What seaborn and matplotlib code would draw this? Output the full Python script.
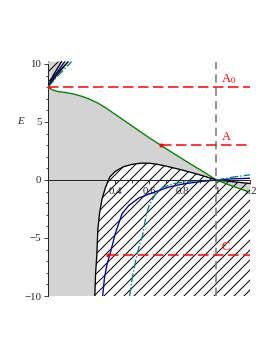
import numpy as np
import matplotlib
matplotlib.use("Agg")
import matplotlib.pyplot as plt
import seaborn as sns

# curves (x, E)
green_x = [0.0, 0.03, 0.06, 0.1, 0.15, 0.2, 0.25, 0.3, 0.35, 0.4, 0.45, 0.5, 0.55, 0.6, 0.67, 0.75, 0.85, 0.93, 1.0, 1.1, 1.2]
green_y = [8.0, 7.75, 7.62, 7.55, 7.42, 7.22, 6.95, 6.6, 6.15, 5.65, 5.15, 4.65, 4.15, 3.65, 3.0, 2.25, 1.35, 0.65, 0.0, -0.55, -1.05]

black_x = [0.278, 0.283, 0.29, 0.296, 0.305, 0.32, 0.34, 0.367, 0.4, 0.45, 0.5, 0.55, 0.6, 0.65, 0.7, 0.8, 0.9, 1.0, 1.1, 1.2]
black_y = [-10, -8, -6.5, -4.3, -3, -1.7, -0.7, 0.26, 0.75, 1.15, 1.35, 1.45, 1.45, 1.35, 1.2, 0.85, 0.45, 0.0, -0.15, -0.3]

blue_x = [0.325, 0.335, 0.35, 0.37, 0.4, 0.44, 0.48, 0.54, 0.64, 0.72, 0.8, 0.9, 1.0, 1.1, 1.2]
blue_y = [-10, -8.5, -7.3, -6.3, -4.6, -2.9, -2.2, -1.55, -1.0, -0.6, -0.35, -0.15, 0.0, 0.1, 0.15]

teal_x = [0.485, 0.5, 0.52, 0.545, 0.56, 0.58, 0.6, 0.64, 0.68, 0.75, 0.85, 1.0, 1.1, 1.2]
teal_y = [-10, -8.5, -7, -5.5, -4.9, -3.3, -2.2, -1.2, -0.65, -0.3, -0.1, 0.0, 0.25, 0.45]

# upper branches near x=0
top_black1_x = [0.0, 0.03, 0.08]
top_black1_y = [8.0, 9.0, 10.2]
top_blue_x = [0.0, 0.04, 0.10]
top_blue_y = [8.0, 9.0, 10.2]
top_black2_x = [0.0, 0.05, 0.12]
top_black2_y = [8.0, 9.0, 10.2]
top_teal_x = [0.0, 0.06, 0.14]
top_teal_y = [8.0, 9.0, 10.2]

# red levels
levels = [8.0, 3.0, -6.5]
level_start = [0.0, 0.67, 0.355]
level_names = ["A$_0$", "A", "C"]
label_y = [8.4, 3.45, -6.0]

sns.set_style("ticks")
plt.rcParams["font.family"] = ["Liberation Serif", "DejaVu Serif"]
plt.rcParams["mathtext.fontset"] = "stix"
plt.rcParams["hatch.linewidth"] = 0.6

fig = plt.figure(figsize=(277 / 120, 358 / 120), dpi=120)
ax = fig.add_axes([48 / 277, 62 / 358, 202 / 277, 235.5 / 358])

gx, gy, bx, by = map(np.array, (green_x, green_y, black_x, black_y))

# grey region: below green, outside the black curve
px = np.concatenate([gx[gx <= 1], bx[bx <= 1][::-1], [0.0]])
py = np.concatenate([gy[gx <= 1], by[bx <= 1][::-1], [-10]])
ax.fill(px, py, color="#d3d3d3", lw=0, zorder=1)
px2 = np.concatenate([gx[gx >= 1], bx[bx >= 1][::-1]])
py2 = np.concatenate([gy[gx >= 1], by[bx >= 1][::-1]])
ax.fill(px2, py2, color="#d3d3d3", lw=0, zorder=1)
ax.fill([0.0] + top_blue_x + [0.0], [8.0] + top_blue_y + [10.2], color="#d3d3d3", lw=0, zorder=1)

# hatched region inside the black curve
hx = black_x + [1.2]
hy = black_y + [-10]
ax.fill(hx, hy, facecolor="none", edgecolor="black", hatch="////", lw=0, zorder=2)
ax.fill([0.0] + top_black2_x + [0.0], [8.0] + top_black2_y + [10.2],
        facecolor="none", edgecolor="black", hatch="////", lw=0, zorder=2)

lw = 0.8
sns.lineplot(x=green_x, y=green_y, ax=ax, color="#008000", lw=lw, sort=False, estimator=None, zorder=4)
sns.lineplot(x=black_x, y=black_y, ax=ax, color="black", lw=lw, sort=False, estimator=None, zorder=4)
sns.lineplot(x=blue_x, y=blue_y, ax=ax, color="#000099", lw=lw, sort=False, estimator=None, zorder=4)
sns.lineplot(x=teal_x, y=teal_y, ax=ax, color="#008080", lw=lw, linestyle="-.", sort=False, estimator=None, zorder=4)
sns.lineplot(x=top_black1_x, y=top_black1_y, ax=ax, color="black", lw=lw, sort=False, estimator=None, zorder=4)
sns.lineplot(x=top_blue_x, y=top_blue_y, ax=ax, color="#000099", lw=lw, sort=False, estimator=None, zorder=4)
sns.lineplot(x=top_black2_x, y=top_black2_y, ax=ax, color="black", lw=lw, sort=False, estimator=None, zorder=4)
sns.lineplot(x=top_teal_x, y=top_teal_y, ax=ax, color="#008080", lw=lw, linestyle="-.", sort=False, estimator=None, zorder=4)

# vertical dashed line at x = 1
sns.lineplot(x=[1.0, 1.0], y=[-10, 10.2], ax=ax, color="#808080", lw=1.0,
             sort=False, estimator=None, zorder=5).lines[-1].set_dashes([5, 3])

for lev, x0, name, ly in zip(levels, level_start, level_names, label_y):
    ln = sns.lineplot(x=[x0, 1.2], y=[lev, lev], ax=ax, color="red", lw=0.9,
                      sort=False, estimator=None, zorder=6).lines[-1]
    ln.set_dashes([7, 3])
    ax.text(1.03, ly, name, color="red", fontsize=7.5, zorder=7)
sns.scatterplot(x=level_start, y=levels, ax=ax, color="red", s=6, linewidth=0, zorder=7)

ax.set_xlim(0, 1.2)
ax.set_ylim(-10, 10.3)
for s in ["top", "right"]:
    ax.spines[s].set_visible(False)
ax.spines["bottom"].set_position(("data", 0))
ax.spines["left"].set_bounds(-10, 10)
ax.spines["bottom"].set_bounds(0, 1.2)
ax.spines["bottom"].set_zorder(8)
for s in ["left", "bottom"]:
    ax.spines[s].set_linewidth(0.6)

ax.set_xticks([0.2, 0.4, 0.6, 0.8, 1.0, 1.2])
ax.set_xticklabels(["0.2", "0.4", "0.6", "0.8", "1", "1.2"])
ax.set_xticks(np.arange(0.1, 1.2, 0.2), minor=True)
ax.set_yticks([-10, -5, 0, 5, 10])
ax.set_yticklabels(["\u221210", "\u22125", "0", "5", "10"])
ax.set_yticks(np.arange(-9, 10, 1), minor=True)
ax.tick_params(which="major", labelsize=6.5, length=2.5, width=0.5, pad=1.5)
ax.tick_params(which="minor", length=1.5, width=0.5)
ax.text(-0.165, 5, "E", style="italic", fontsize=6.5, ha="center", va="center")

fig.savefig("out.png", dpi=120)
